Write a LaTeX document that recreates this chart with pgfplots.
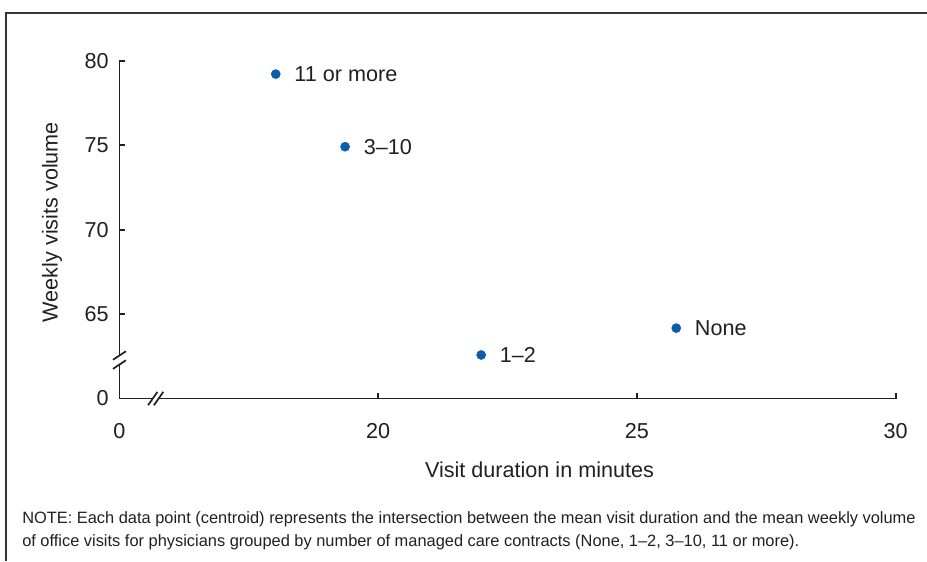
\documentclass[border=0pt]{standalone}
\usepackage{pgfplots}
\pgfplotsset{compat=1.18}
\usepackage{fontspec}
\setmainfont{Liberation Sans}
\definecolor{dotblue}{HTML}{0A5DA8}
\definecolor{ink}{HTML}{231F20}
\begin{document}
\begin{tikzpicture}
\useasboundingbox (0pt,0pt) rectangle (695.25pt,-420.75pt);
\draw[ink!90, line width=1.4pt] (4.5pt,-421pt) -- (4.5pt,-9.75pt) -- (696pt,-9.75pt);
\begin{axis}[
  at={(89.6pt,-298.9pt)}, anchor=south west,
  scale only axis, width=582.15pt, height=253.35pt,
  xmin=15, xmax=30, ymin=60, ymax=80,
  axis x line*=bottom, axis y line*=left,
  axis line style={-, line width=1.4pt, ink},
  xtick={15,20,25,30}, xticklabels={0,20,25,30},
  ytick={60,65,70,75,80}, yticklabels={0,65,70,75,80},
  tick align=inside, major tick length=4.5pt,
  tick style={line width=1.3pt, ink},
  ticklabel style={font=\fontsize{16.2}{19}\selectfont, text=ink},
  xticklabel style={yshift=-15pt},
  yticklabel style={xshift=-4.5pt},
  clip=false,
  nodes near coords, point meta=explicit symbolic,
  every node near coord/.append style={anchor=west, xshift=10.5pt, font=\fontsize{16.2}{19}\selectfont, text=ink},
]
\addplot[only marks, mark=*, mark size=3.4pt, dotblue, mark options={draw=dotblue, fill=dotblue}] table[meta=label, col sep=comma] {
x,y,label
18.02,79.21,11 or more
19.36,74.91,3–10
21.99,62.58,1–2
25.76,64.17,None
};
\coordinate (yb) at (axis cs:15,62.28);
\coordinate (xb) at (axis cs:15.70,60);
\end{axis}
% y-axis break
\fill[white] ([xshift=-4pt,yshift=-3.4pt]yb) rectangle ([xshift=4pt,yshift=3.4pt]yb);
\draw[ink, line width=1.3pt] ([xshift=-4.9pt,yshift=-3.2pt+3.4pt]yb) -- ([xshift=4.9pt,yshift=3.2pt+3.4pt]yb);
\draw[ink, line width=1.3pt] ([xshift=-4.9pt,yshift=-3.2pt-3.4pt]yb) -- ([xshift=4.9pt,yshift=3.2pt-3.4pt]yb);
% x-axis break
\fill[white] ([xshift=-2.2pt,yshift=-4pt]xb) rectangle ([xshift=2.2pt,yshift=4pt]xb);
\draw[ink, line width=1.3pt] ([xshift=-3.5pt-2.2pt,yshift=-5pt]xb) -- ([xshift=3.5pt-2.2pt,yshift=5pt]xb);
\draw[ink, line width=1.3pt] ([xshift=-3.5pt+2.2pt,yshift=-5pt]xb) -- ([xshift=3.5pt+2.2pt,yshift=5pt]xb);
% axis titles
\node[font=\fontsize{16.2}{19}\selectfont, text=ink] at (404.6pt,-352.5pt) {Visit duration in minutes};
\node[font=\fontsize{16.2}{19}\selectfont, text=ink, rotate=90] at (39pt,-166.5pt) {Weekly visits volume};
% note
\node[anchor=north west, inner sep=0pt, align=left, font=\fontsize{12.3}{17.25}\selectfont, text=ink] at (16.5pt,-383.5pt)
{NOTE: Each data point (centroid) represents the intersection between the mean visit duration and the mean weekly volume\\
of office visits for physicians grouped by number of managed care contracts (None, 1–2, 3–10, 11 or more).};
\end{tikzpicture}
\end{document}
